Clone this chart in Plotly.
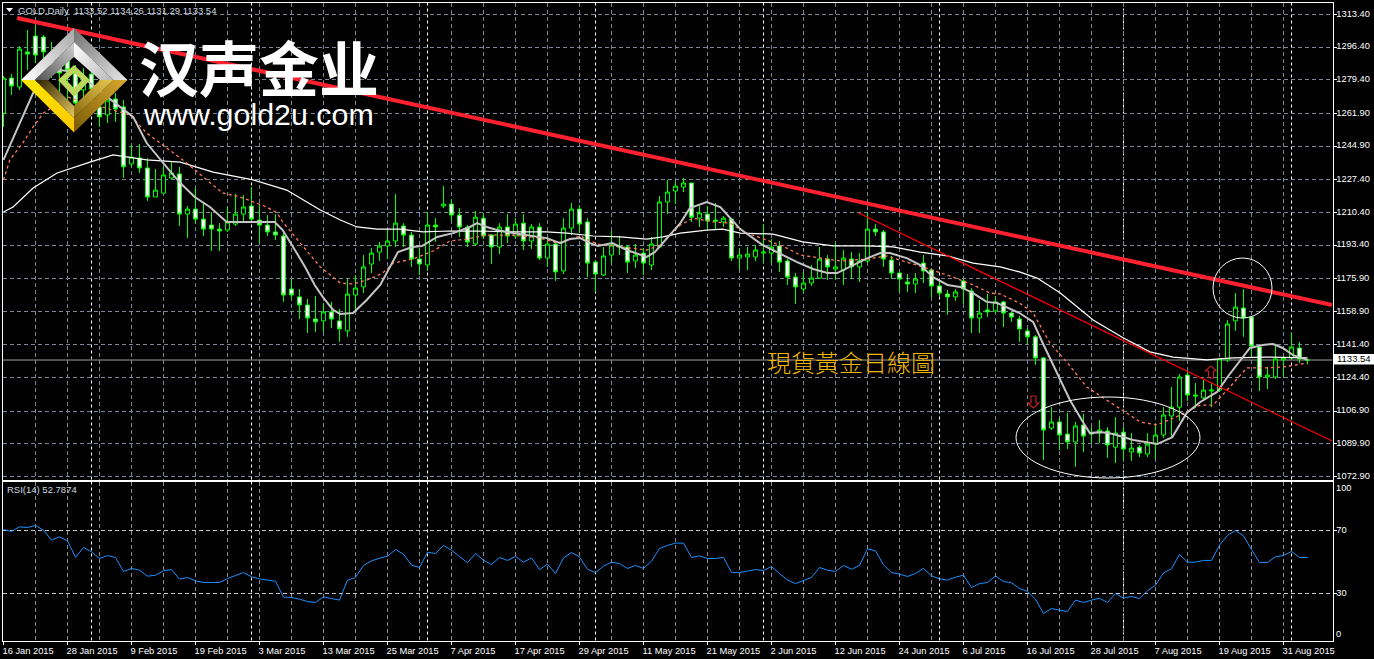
import base64
import plotly.graph_objects as go

W, H = 1374, 659

tick_dates = ["16 Jan 2015", "28 Jan 2015", "9 Feb 2015", "19 Feb 2015", "3 Mar 2015", "13 Mar 2015", "25 Mar 2015",
              "7 Apr 2015", "17 Apr 2015", "29 Apr 2015", "11 May 2015", "21 May 2015", "2 Jun 2015", "12 Jun 2015",
              "24 Jun 2015", "6 Jul 2015", "16 Jul 2015", "28 Jul 2015", "7 Aug 2015", "19 Aug 2015", "31 Aug 2015"]
price_ticks = [1313.4, 1296.4, 1279.4, 1261.9, 1244.9, 1227.4, 1210.4, 1193.4, 1175.9, 1158.9, 1141.4, 1124.4, 1106.9, 1089.9, 1072.9]
month_bars = [11, 31, 53, 74, 95, 117, 140, 161]

opens = [1262.1,1280.3,1275.7,1293.9,1302.2,1301.7,1289.7,1288.7,1289.7,1282.9,
 1274.1,1282.4,1265.3,1261.1,1269.4,1265.3,1235.6,1238.7,1233.5,1218.4,
 1220.4,1228.3,1230.4,1209.5,1212.1,1206.9,1203.8,1201.7,1201.2,1204.3,
 1209.5,1213.7,1206.4,1203.8,1200.2,1198.1,1170.5,1166.4,1162.2,1154.9,
 1153.9,1158.6,1153.9,1148.7,1167.4,1171.6,1183.5,1189.7,1192.9,1195.5,
 1203.3,1198.6,1186.1,1183.0,1203.8,1213.7,1214.7,1209.0,1202.8,1193.9,
 1207.4,1198.6,1192.4,1202.8,1198.1,1204.8,1195.5,1202.8,1186.6,1193.9,
 1179.9,1202.2,1212.1,1205.4,1184.5,1177.8,1188.2,1192.9,1192.4,1185.1,
 1189.2,1183.0,1192.4,1215.8,1221.5,1223.6,1225.7,1207.4,1209.5,1206.4,
 1205.4,1206.9,1186.6,1187.2,1187.2,1189.2,1189.2,1192.9,1185.1,1176.7,
 1170.5,1173.6,1176.2,1186.1,1180.9,1180.4,1186.1,1182.0,1185.1,1201.7,
 1200.2,1185.6,1178.8,1174.2,1173.1,1184.0,1180.4,1172.1,1167.9,1166.4,
 1174.7,1169.5,1155.4,1159.6,1159.1,1163.8,1158.0,1154.9,1148.7,1145.6,
 1134.6,1098.1,1101.3,1095.0,1090.9,1099.7,1095.0,1095.5,1096.6,1088.2,
 1096.0,1085.7,1088.2,1084.6,1089.8,1094.5,1104.4,1109.0,1125.7,1115.3,
 1113.8,1117.4,1117.9,1133.6,1153.9,1160.6,1155.9,1140.3,1124.7,1124.7,
 1133.6,1134.6,1139.8,1133.52]
closes = [1280.3,1276.2,1295.4,1292.8,1292.3,1293.9,1285.5,1282.9,1284.5,1267.3,
 1279.3,1274.6,1260.1,1268.9,1264.2,1234.1,1239.2,1233.5,1218.4,1222.0,
 1229.9,1230.9,1209.5,1212.1,1206.9,1201.7,1201.7,1200.7,1205.4,1209.5,
 1213.2,1206.9,1203.8,1200.2,1198.6,1167.4,1167.4,1162.2,1155.4,1153.4,
 1158.6,1154.9,1149.7,1167.9,1171.0,1182.0,1189.2,1192.9,1195.5,1204.8,
 1198.6,1186.1,1183.5,1203.8,1202.8,1214.7,1209.0,1202.8,1195.0,1207.9,
 1198.1,1192.4,1202.8,1198.1,1204.3,1195.5,1202.8,1186.6,1193.9,1179.4,
 1202.2,1212.1,1204.3,1184.0,1178.3,1187.7,1193.4,1192.4,1184.5,1188.2,
 1184.0,1193.9,1215.8,1221.0,1224.1,1225.7,1207.9,1210.1,1205.9,1205.9,
 1207.4,1186.6,1188.2,1188.7,1190.8,1189.7,1192.4,1184.5,1176.7,1171.6,
 1173.6,1176.2,1186.1,1182.0,1182.0,1186.6,1182.0,1185.1,1201.7,1200.2,
 1186.1,1178.8,1175.7,1173.1,1175.7,1179.9,1172.1,1168.4,1166.4,1169.0,
 1170.5,1155.4,1158.0,1158.6,1163.8,1158.0,1155.9,1149.7,1145.6,1134.6,
 1097.1,1101.3,1094.5,1090.9,1099.2,1094.0,1095.5,1097.1,1089.3,1095.5,
 1087.2,1087.7,1085.1,1089.8,1094.5,1104.9,1109.0,1124.7,1115.3,1114.8,
 1117.9,1117.9,1134.1,1152.3,1161.1,1155.4,1140.8,1124.7,1125.7,1134.1,
 1134.6,1140.3,1134.1,1133.54]
highs = [1281.4,1282.4,1297.0,1305.3,1307.4,1302.7,1299.1,1292.3,1294.9,1287.1,
 1285.5,1284.0,1271.5,1274.1,1272.5,1268.9,1245.5,1246.0,1238.7,1233.0,
 1234.1,1236.7,1234.1,1213.7,1223.1,1215.8,1210.6,1204.8,1213.2,1220.0,
 1219.4,1223.6,1214.7,1209.0,1209.5,1199.6,1175.7,1170.5,1165.3,1166.9,
 1163.2,1163.8,1160.1,1175.7,1177.8,1188.2,1191.8,1195.0,1201.2,1220.0,
 1204.8,1200.2,1191.8,1210.6,1207.4,1224.1,1217.3,1212.6,1203.8,1211.1,
 1210.0,1199.1,1204.8,1209.5,1207.4,1209.5,1204.3,1204.8,1197.6,1195.5,
 1207.4,1215.3,1214.2,1207.4,1185.6,1192.4,1200.7,1198.1,1193.4,1193.9,
 1191.8,1197.6,1218.9,1227.3,1226.2,1228.3,1225.7,1213.7,1213.7,1215.3,
 1208.5,1207.4,1191.8,1192.4,1193.4,1204.3,1196.5,1195.5,1186.1,1178.8,
 1179.4,1183.0,1192.4,1188.2,1194.4,1190.8,1189.7,1189.2,1210.1,1204.3,
 1201.2,1187.7,1180.4,1178.3,1178.8,1188.2,1181.4,1174.2,1170.0,1170.5,
 1175.7,1171.0,1164.8,1167.9,1166.9,1164.3,1158.6,1156.5,1150.2,1146.6,
 1135.1,1109.0,1103.4,1106.0,1101.3,1105.5,1098.6,1102.3,1098.6,1103.8,
 1098.6,1095.5,1089.3,1095.5,1099.7,1109.0,1119.5,1126.3,1127.3,1121.6,
 1123.1,1121.6,1134.6,1154.4,1168.4,1170.5,1155.9,1140.3,1129.9,1141.4,
 1135.1,1147.6,1143.0,1134.26]
lows = [1254.9,1271.5,1274.1,1284.5,1288.1,1289.7,1280.3,1272.5,1268.9,1263.7,
 1268.9,1268.9,1254.9,1256.9,1257.5,1228.3,1234.1,1230.9,1216.3,1218.4,
 1220.4,1227.3,1203.3,1197.0,1204.8,1198.1,1190.3,1190.3,1200.2,1203.3,
 1204.8,1204.8,1194.4,1198.1,1196.0,1163.8,1165.3,1154.9,1147.6,1148.2,
 1148.2,1150.2,1143.0,1145.6,1158.6,1168.4,1178.8,1185.1,1186.1,1192.4,
 1192.4,1182.0,1177.8,1179.9,1195.0,1212.6,1205.9,1197.6,1192.4,1192.9,
 1196.5,1183.5,1188.7,1194.4,1196.5,1190.8,1191.3,1185.6,1182.0,1174.7,
 1178.3,1198.6,1199.6,1176.7,1169.0,1177.3,1184.0,1188.2,1178.8,1181.4,
 1177.8,1180.4,1191.8,1209.5,1214.7,1221.0,1205.4,1202.8,1201.2,1201.2,
 1202.8,1185.1,1180.4,1180.4,1185.1,1184.0,1184.0,1179.4,1172.6,1162.7,
 1168.4,1172.1,1175.7,1175.2,1175.2,1172.6,1175.7,1174.2,1184.0,1198.1,
 1182.0,1175.7,1169.0,1169.0,1168.4,1173.6,1165.9,1166.9,1157.0,1164.3,
 1162.7,1147.6,1147.6,1155.9,1158.0,1150.7,1153.4,1143.0,1141.9,1131.0,
 1081.5,1097.1,1086.7,1087.2,1077.9,1085.7,1090.4,1090.4,1082.6,1079.9,
 1081.5,1081.0,1083.0,1083.0,1082.0,1092.9,1093.4,1101.8,1112.2,1108.5,
 1112.7,1109.0,1116.9,1132.5,1148.7,1145.6,1134.6,1117.4,1118.4,1123.6,
 1124.7,1134.1,1132.0,1131.29]

fast_ma_bar = [0,3.7,5,7,9,11,13,14.6,16.2,17.9,19.9,21.2,22.1,23.9,25.8,27.9,33.9,34.9,36.2,37.7,38.9,39.9,41.2,42.1,43.7,45.4,47.1,48.3,49.3,51.1,52.3,54.2,56.2,58.3,59.2,60.4,61.7,63.7,65.4,67.9,69.6,70.8,72.1,73.3,74.3,76.1,77.9,80.4,81.4,82.9,84.6,85.8,87.9,89.6,90.8,92.1,94.9,97.1,99.2,101.2,103,104.2,105.8,108,109.6,110.8,112.9,114.6,116.2,118,119.6,121.2,122.9,124.2,127,128.7,129.9,131.7,133.3,135,135.8,137.1,138.7,141.2,144.2,146.1,147.9,149.6,151.7,153,154.6,155.8,157.4,158.7,159.9,161.2,163]
fast_ma = [1237.7,1272.5,1280.3,1284.5,1283.4,1277.2,1270.4,1265.3,1260.1,1246.5,1236.1,1229.9,1225.7,1218.4,1213.2,1205.4,1205.4,1201.2,1192.4,1182.0,1172.6,1166.4,1159.6,1157.5,1158.0,1164.8,1172.6,1182.0,1189.7,1192.4,1192.9,1197.6,1199.6,1202.8,1204.8,1202.8,1201.2,1199.6,1198.6,1197.0,1194.4,1196.5,1197.0,1194.4,1192.9,1194.4,1190.8,1187.2,1189.7,1197.0,1204.8,1212.6,1215.8,1213.2,1207.9,1201.7,1193.4,1188.7,1184.5,1180.9,1178.8,1178.8,1182.0,1186.6,1189.2,1189.2,1186.6,1183.0,1176.7,1172.6,1171.6,1168.4,1163.8,1163.2,1158.0,1153.4,1142.4,1126.8,1112.7,1100.8,1095.5,1096.0,1095.0,1091.9,1089.8,1093.4,1106.0,1111.7,1116.9,1124.7,1133.6,1139.8,1141.4,1141.9,1139.8,1136.1,1133.6]

mid_ma_bar = [0,0.8,2.4,3.7,5,8,15.8,17.9,19.9,22.9,25.4,27.4,29.6,32.9,34.2,34.9,37.1,39.6,42.1,43.7,45.8,47.4,48.7,51.2,53.7,55.8,57.9,60.4,63.7,67.1,69.2,72.1,74.2,76.2,78.7,80.4,82.1,83.7,84.6,86.2,88.7,90.8,92.9,95.4,97.9,99.6,102.1,104.6,108,110.4,112,115.4,118.7,121.2,123.3,124.6,127,128.7,130.8,133,135.4,139.2,142.1,144.2,147.1,149.6,151.2,153.3,155.4,157.9,159.9,163]
mid_ma = [1227.3,1237.7,1246.5,1254.9,1262.1,1270.4,1261.1,1251.7,1245.5,1236.1,1227.3,1220.5,1218.4,1213.2,1210.1,1205.4,1194.4,1182.0,1173.6,1173.1,1175.7,1178.8,1184.0,1186.1,1190.3,1195.5,1196.5,1198.6,1198.6,1197.0,1194.4,1198.1,1193.9,1192.9,1191.8,1190.8,1193.4,1200.2,1203.8,1207.4,1205.4,1204.8,1199.6,1196.0,1191.8,1188.2,1186.6,1185.1,1186.1,1187.7,1185.6,1181.4,1176.7,1172.6,1168.4,1167.9,1163.2,1158.0,1142.4,1132.0,1119.5,1109.0,1101.3,1099.7,1104.9,1110.1,1110.1,1119.5,1129.4,1129.4,1129.9,1132.0]

slow_ma_bar = [0,1.2,3.7,6.7,10.8,13.7,17.9,22.1,26.2,31.2,35.4,39.6,42.1,44.2,46.7,49.6,52.4,55.8,59.6,63.7,67.9,70.4,73.7,77.1,80.4,82.4,84.6,87.9,89.9,92.1,96.2,99.9,103.7,108,111.2,114.6,118,121.2,124.6,127,129.2,132.1,136.2,140,143.3,146.2,150.4,153.7,157.9,163]
slow_ma = [1210.6,1213.2,1223.1,1230.9,1236.6,1240.3,1237.7,1236.6,1231.4,1227.3,1222.0,1211.6,1206.4,1202.8,1201.7,1201.7,1200.2,1200.7,1200.7,1200.2,1200.2,1199.6,1198.1,1197.6,1196.5,1197.6,1199.6,1201.2,1201.7,1199.6,1199.1,1195.0,1192.9,1192.9,1192.4,1189.7,1187.7,1184.0,1182.0,1179.4,1176.2,1168.4,1154.4,1145.0,1137.8,1135.1,1133.6,1134.6,1135.1,1134.6]

rsi = [70.6,69.4,72.3,71.9,73.2,70.2,63.9,66.0,63.4,52.9,
 59.2,56.5,52.2,54.1,52.9,44.0,45.9,44.8,41.0,41.6,
 44.4,45.2,39.1,40.2,38.0,37.0,37.0,37.0,39.5,41.6,
 43.3,40.6,39.3,38.5,37.8,27.7,27.5,26.4,24.9,24.3,
 27.9,26.8,25.8,38.5,40.2,47.8,50.7,52.4,53.7,57.9,
 55.0,48.0,46.5,56.2,55.4,60.5,57.5,53.5,49.5,55.4,
 51.2,48.4,52.9,51.0,53.5,49.9,52.6,45.2,48.6,42.7,
 52.6,56.0,53.3,45.4,43.3,47.4,49.9,49.0,45.9,47.8,
 45.9,50.5,58.6,60.5,62.0,62.0,52.9,53.9,52.2,52.2,
 52.9,43.3,43.3,44.2,45.2,44.6,47.1,42.7,38.5,36.3,
 38.5,40.2,46.5,44.8,44.0,47.8,45.4,47.8,58.4,57.1,
 48.2,43.3,42.3,40.8,42.7,45.9,41.2,39.3,38.5,40.4,
 41.6,33.8,36.3,37.0,41.2,37.6,36.8,33.2,31.3,26.4,
 17.3,20.5,19.4,18.6,25.8,24.3,25.8,27.0,24.3,30.0,
 27.0,28.1,26.8,31.7,35.3,43.1,45.7,54.8,49.9,49.9,
 51.0,51.0,60.7,67.0,70.0,66.6,57.9,49.7,49.7,53.3,
 54.1,56.7,52.9,52.8]

major_trend_bar = [1.7, 166.06]
major_trend = [1311.6, 1162.2]
minor_trend_bar = [106.9, 166.06]
minor_trend = [1210.1, 1091.4]
last_price = 1133.54

bars = list(range(len(opens)))

# pixel layout of the two panels
LEFT, RIGHT = 2.5, 1332.5
MAIN_TOP, MAIN_BOT = 2.5, 479.5
RSI_TOP, RSI_BOT = 481.5, 640.5
X_RANGE = [(LEFT - 3.5) / 8, (RIGHT - 3.5) / 8]
Y_RANGE = [1320.95 - 0.52056 * MAIN_BOT, 1320.95 - 0.52056 * MAIN_TOP]
RSI_RANGE = [30 - (RSI_BOT - 593.5) / 1.575, 70 + (530.5 - RSI_TOP) / 1.575]

def fx(p):
    return p / W

def fy(p):
    return 1 - p / H

GRID = "#778899"
TEXT = "#ffffff"
FONT = "Liberation Sans"
TICK_SIZE = 9.3

fig = go.Figure()
fig.add_trace(go.Candlestick(
    x=bars, open=opens, high=highs, low=lows, close=closes, xaxis="x", yaxis="y",
    increasing=dict(line=dict(color="#00ff00", width=1), fillcolor="#000000"),
    decreasing=dict(line=dict(color="#00ff00", width=1), fillcolor="#ffffff"),
    whiskerwidth=0, showlegend=False, hoverinfo="skip"))
fig.add_trace(go.Scatter(x=slow_ma_bar, y=slow_ma, mode="lines", line=dict(color="#ffffff", width=1.25), xaxis="x", yaxis="y", hoverinfo="skip"))
fig.add_trace(go.Scatter(x=mid_ma_bar, y=mid_ma, mode="lines", line=dict(color="#ff7858", width=1.3, dash="3px,3px"), xaxis="x", yaxis="y", hoverinfo="skip"))
fig.add_trace(go.Scatter(x=fast_ma_bar, y=fast_ma, mode="lines", line=dict(color="#c4c4c4", width=2), xaxis="x", yaxis="y", hoverinfo="skip"))
fig.add_trace(go.Scatter(x=minor_trend_bar, y=minor_trend, mode="lines", line=dict(color="#ff0000", width=1.25), xaxis="x", yaxis="y", hoverinfo="skip"))
fig.add_trace(go.Scatter(x=major_trend_bar, y=major_trend, mode="lines", line=dict(color="#ff2030", width=4), xaxis="x", yaxis="y", hoverinfo="skip"))
fig.add_trace(go.Scatter(x=bars, y=rsi, mode="lines", line=dict(color="#1e90ff", width=1), xaxis="x2", yaxis="y2", hoverinfo="skip"))

shapes = []
for b in month_bars:
    shapes.append(dict(type="line", xref="x", yref="y domain", x0=b, x1=b, y0=0, y1=1, layer="below",
                       line=dict(color="#ffffff", width=1, dash="3px,3px")))
    shapes.append(dict(type="line", xref="x2", yref="y2 domain", x0=b, x1=b, y0=0, y1=1, layer="below",
                       line=dict(color="#ffffff", width=1, dash="3px,3px")))
shapes.append(dict(type="line", xref="x domain", yref="y", x0=0, x1=1, y0=last_price, y1=last_price, layer="below",
                   line=dict(color="#a0a0a0", width=1)))
# ellipse and circle marked on the chart
shapes.append(dict(type="circle", xref="paper", yref="paper", x0=fx(1016), x1=fx(1200), y0=fy(397), y1=fy(478), line=dict(color="#ffffff", width=1)))
shapes.append(dict(type="circle", xref="paper", yref="paper", x0=fx(1213), x1=fx(1272), y0=fy(258), y1=fy(318), line=dict(color="#ffffff", width=1)))

def poly(points):
    return "M " + " L ".join(f"{fx(a):.5f},{fy(b):.5f}" for a, b in points) + " Z"

def arrow(cx, top, bot, down):
    hw, sw = 5.5, 2.5
    if down:
        neck = bot - 5
        pts = [(cx - sw, top), (cx + sw, top), (cx + sw, neck), (cx + hw, neck), (cx, bot), (cx - hw, neck), (cx - sw, neck)]
    else:
        neck = top + 5
        pts = [(cx - sw, bot), (cx + sw, bot), (cx + sw, neck), (cx + hw, neck), (cx, top), (cx - hw, neck), (cx - sw, neck)]
    return poly(pts)

shapes.append(dict(type="path", xref="paper", yref="paper", path=arrow(1033.5, 396, 408, True), line=dict(color="#c02020", width=1.2)))
shapes.append(dict(type="path", xref="paper", yref="paper", path=arrow(1211, 366, 378, False), line=dict(color="#c02020", width=1.2)))
# header triangle
shapes.append(dict(type="path", xref="paper", yref="paper", path=poly([(6, 8), (13, 8), (9.5, 12)]), fillcolor="#ffffff", line=dict(width=0)))
# last price box
shapes.append(dict(type="rect", xref="paper", yref="paper", x0=fx(1333), x1=fx(1374), y0=fy(354), y1=fy(364.5), fillcolor="#ffffff", line=dict(width=0)))

def note(px, py, text, size, color, font=FONT, weight=None, anchor="left"):
    f = dict(family=font, size=size, color=color)
    if weight:
        f["weight"] = weight
    return dict(xref="paper", yref="paper", x=fx(px), y=fy(py), text=text, showarrow=False, xanchor=anchor, yanchor="middle", font=f, borderpad=0, borderwidth=0)

annotations = [
    note(18, 10.5, "GOLD,Daily  1133.52 1134.26 1131.29 1133.54", 9.5, "#d0d8e0"),
    note(7, 490, "RSI(14) 52.7874", 9.5, "#d0d8e0"),
    note(1337, 359, "1133.54", 9.5, "#000000"),
    note(1336, 488, "100", TICK_SIZE, TEXT),
    note(1336, 634, "0", TICK_SIZE, TEXT),
    note(139, 65.5, "汉声金业", 60, "#ffffff", font="Noto Sans CJK SC", weight=700),
    note(143, 113.5, "www.gold2u.com", 30.4, "#ffffff"),
    note(767, 362, "現貨黃金日線圖", 24, "#f0b800", font="Noto Sans CJK TC", weight=300),
]

# logo drawn as an inline vector picture with gradients
def logo_svg():
    O = dict(T=(74, 28), R=(127.5, 80), B=(74, 132.5), L=(21, 80))
    M = dict(T=(74, 42), R=(113.5, 80), B=(74, 118), L=(35, 80))
    N = dict(T=(74, 57), R=(100, 80), B=(74, 106), L=(48, 80))
    def pts(*ps):
        return " ".join(f"{a},{b}" for a, b in ps)
    def grad(i, a, b, c1, c2):
        return (f'<linearGradient id="g{i}" gradientUnits="userSpaceOnUse" x1="{a[0]}" y1="{a[1]}" x2="{b[0]}" y2="{b[1]}">'
                f'<stop offset="0" stop-color="{c1}"/><stop offset="1" stop-color="{c2}"/></linearGradient>')
    bands = [
        (O["L"], O["T"], M["T"], M["L"], "#ffffff", "#a8a8a8"),
        (O["T"], O["R"], M["R"], M["T"], "#707070", "#e8e8e8"),
        (M["L"], M["T"], N["T"], N["L"], "#505050", "#d0d0d0"),
        (M["T"], M["R"], N["R"], N["T"], "#ffffff", "#b8b8b8"),
        (O["L"], O["B"], M["B"], M["L"], "#ffe800", "#ffc800"),
        (O["B"], O["R"], M["R"], M["B"], "#7a5a05", "#d8a830"),
        (M["L"], M["B"], N["B"], N["L"], "#2a1e00", "#e6c860"),
        (M["B"], M["R"], N["R"], N["B"], "#8a6a10", "#e6c850"),
    ]
    defs, polys = "", ""
    for i, (a, b, c, d, c1, c2) in enumerate(bands):
        defs += grad(i, a, b, c1, c2)
        polys += f'<polygon points="{pts(a, b, c, d)}" fill="url(#g{i})"/>'
    ring = ('<path fill-rule="evenodd" fill="#bcd65e" d="M58 80 L74 65 L90 80 L74 97 Z M66 80 L74 88 L82 80 L74 73 Z"/>')
    return (f'<svg xmlns="http://www.w3.org/2000/svg" width="120" height="115" viewBox="15 25 120 115">'
            f'<defs>{defs}</defs>{polys}{ring}</svg>')

logo_uri = "data:image/svg+xml;base64," + base64.b64encode(logo_svg().encode()).decode()

axis_common = dict(showline=True, mirror=True, linecolor="#ffffff", linewidth=1, zeroline=False, griddash="4px,3px", fixedrange=True)

fig.update_layout(
    width=W, height=H, autosize=False,
    margin=dict(l=0, r=0, t=0, b=0, pad=0),
    paper_bgcolor="#000000", plot_bgcolor="#000000",
    showlegend=False, hovermode=False, boxgap=0.3,
    font=dict(family=FONT, size=TICK_SIZE, color=TEXT),
    shapes=shapes, annotations=annotations,
    images=[dict(source=logo_uri, xref="paper", yref="paper", x=fx(15), y=fy(25), sizex=120 / W, sizey=115 / H,
                 xanchor="left", yanchor="top", sizing="stretch", layer="above")],
    xaxis=dict(domain=[fx(LEFT), fx(RIGHT)], range=X_RANGE, anchor="y", tickmode="array", tickvals=bars[::4],
               showticklabels=False, ticks="", showgrid=True, gridcolor=GRID, gridwidth=1,
               rangeslider=dict(visible=False), automargin=False, **axis_common),
    yaxis=dict(domain=[fy(MAIN_BOT), fy(MAIN_TOP)], range=Y_RANGE, anchor="x", side="right", tickmode="array",
               tickvals=price_ticks, ticktext=[f"{v:.2f}" for v in price_ticks], ticks="outside", ticklen=3,
               ticklabelstandoff=-2, ticklabelshift=-1,
               tickcolor="#ffffff", showgrid=True, gridcolor=GRID, gridwidth=1, automargin=False, **axis_common),
    xaxis2=dict(domain=[fx(LEFT), fx(RIGHT)], range=X_RANGE, anchor="y2", tickmode="array", tickvals=bars[::8][:len(tick_dates)],
                ticktext=tick_dates, ticklabelposition="outside right", ticklabelshift=-2, ticklabelstandoff=1, ticks="outside", ticklen=3, tickcolor="#ffffff",
                showgrid=True, gridcolor="#8c8c8c", gridwidth=1, automargin=False,
                minor=dict(tickmode="array", tickvals=bars[4::8], showgrid=True, gridcolor="#8c8c8c", gridwidth=1, griddash="4px,3px", ticks=""),
                **axis_common),
    yaxis2=dict(domain=[fy(RSI_BOT), fy(RSI_TOP)], range=RSI_RANGE, anchor="x2", side="right", tickmode="array",
                tickvals=[30, 70], ticktext=["30", "70"], ticks="outside", ticklen=3, ticklabelstandoff=-2, ticklabelshift=-1,
                tickcolor="#ffffff", showgrid=True, gridcolor="#c8c8c8", gridwidth=1, automargin=False, **axis_common),
)

fig.write_html("out.html", config=dict(displayModeBar=False, staticPlot=True),
               post_script="document.body.style.margin='0';document.body.style.background='#000';document.documentElement.style.overflow='hidden';")
